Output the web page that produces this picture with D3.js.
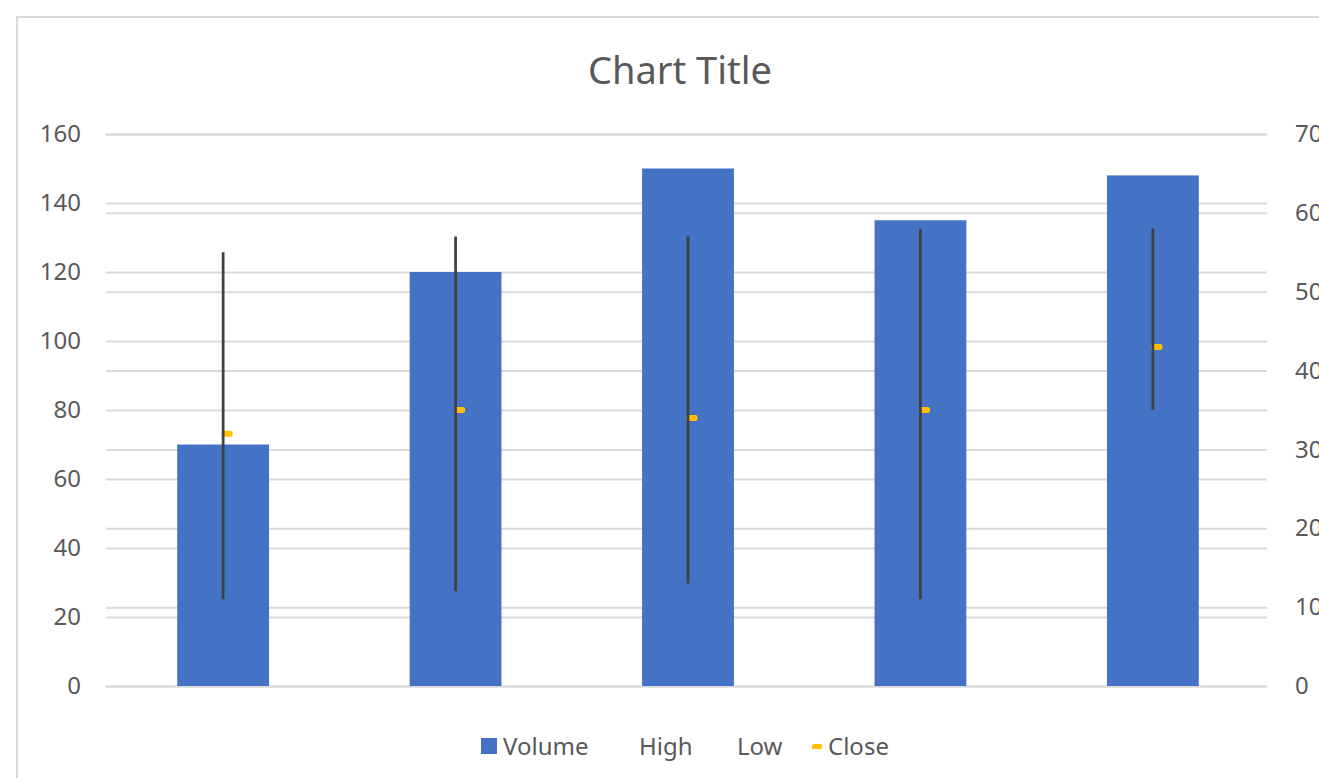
<!DOCTYPE html>
<html>
<head>
<meta charset="utf-8">
<script src="https://cdn.jsdelivr.net/npm/d3@7"></script>
<style>
  body { margin: 0; background: #fff; overflow: hidden; }
  svg text { font-family: 'Noto Sans', 'Open Sans', sans-serif; fill: #595959; }
</style>
</head>
<body>
<div id="chart"></div>
<script>
const categories = ['1', '2', '3', '4', '5'];
const volume = [70, 120, 150, 135, 148];
const high = [55, 57, 57, 58, 58];
const low = [11, 12, 13, 11, 35];
const close = [32, 35, 34, 35, 43];
const leftTicks = [0, 20, 40, 60, 80, 100, 120, 140, 160];
const rightTicks = [0, 10, 20, 30, 40, 50, 60, 70];

const width = 1319;
const height = 778;
const plot = { left: 106, right: 1267, top: 134, bottom: 686 };

const svg = d3.select('#chart').append('svg')
  .attr('width', width)
  .attr('height', height);

// chart area border (runs off the right and bottom edges)
svg.append('rect')
  .attr('x', 17)
  .attr('y', 17)
  .attr('width', 1400)
  .attr('height', 900)
  .style('fill', '#fff')
  .style('stroke', '#d9d9d9')
  .style('stroke-width', 2);

svg.append('text')
  .attr('x', 680)
  .attr('y', 84)
  .attr('text-anchor', 'middle')
  .style('font-size', '38px')
  .text('Chart Title');

const xScale = d3.scaleBand()
  .domain(categories)
  .range([plot.left + 1.5, plot.right + 1.5])
  .paddingInner(0.605)
  .paddingOuter(0.3);

const yLeft = d3.scaleLinear()
  .domain([0, 160])
  .range([plot.bottom, plot.top]);

const yRight = d3.scaleLinear()
  .domain([0, 70])
  .range([plot.bottom, plot.top]);

// gridlines for both axes
const leftAxis = d3.axisLeft(yLeft)
  .tickValues(leftTicks)
  .tickSizeInner(-(plot.right - plot.left))
  .tickSizeOuter(0)
  .tickPadding(25);

const rightAxis = d3.axisRight(yRight)
  .tickValues(rightTicks)
  .tickSizeInner(-(plot.right - plot.left))
  .tickSizeOuter(0)
  .tickPadding(28);

const gLeft = svg.append('g')
  .attr('transform', `translate(${plot.left},0)`)
  .call(leftAxis);

const gRight = svg.append('g')
  .attr('transform', `translate(${plot.right},0)`)
  .call(rightAxis);

[gLeft, gRight].forEach((g) => {
  g.select('.domain').remove();
  g.selectAll('.tick line')
    .style('stroke', '#d9d9d9')
    .style('stroke-width', 2);
  g.selectAll('.tick text')
    .style('font-size', '24px')
    .style('font-family', "'Noto Sans', sans-serif")
    .style('fill', '#595959');
});

// volume bars
svg.append('g')
  .selectAll('rect')
  .data(categories)
  .join('rect')
  .attr('x', (d) => xScale(d))
  .attr('y', (d, i) => yLeft(volume[i]))
  .attr('width', xScale.bandwidth())
  .attr('height', (d, i) => yLeft(0) - yLeft(volume[i]))
  .style('fill', '#4472c4');

const cx = (d) => xScale(d) + xScale.bandwidth() / 2;

// close markers
svg.append('g')
  .selectAll('rect')
  .data(categories)
  .join('rect')
  .attr('x', (d) => cx(d) - 1.5)
  .attr('y', (d, i) => yRight(close[i]) - 3)
  .attr('width', 11)
  .attr('height', 6)
  .attr('rx', 2)
  .style('fill', '#ffc000');

// high-low lines
svg.append('g')
  .selectAll('line')
  .data(categories)
  .join('line')
  .attr('x1', cx)
  .attr('x2', cx)
  .attr('y1', (d, i) => yRight(high[i]))
  .attr('y2', (d, i) => yRight(low[i]))
  .style('stroke', '#404040')
  .style('stroke-width', 2.75);

// legend
const legend = svg.append('g').attr('class', 'legend');

legend.append('rect')
  .attr('x', 481)
  .attr('y', 738)
  .attr('width', 16)
  .attr('height', 16)
  .style('fill', '#4472c4');

legend.append('text').attr('x', 503).attr('y', 755).style('font-size', '24px').text('Volume');
legend.append('text').attr('x', 639).attr('y', 755).style('font-size', '24px').text('High');
legend.append('text').attr('x', 737).attr('y', 755).style('font-size', '24px').text('Low');

legend.append('rect')
  .attr('x', 812)
  .attr('y', 744)
  .attr('width', 10)
  .attr('height', 5)
  .attr('rx', 1.5)
  .style('fill', '#ffc000');

legend.append('text').attr('x', 828).attr('y', 755).style('font-size', '24px').text('Close');
</script>
</body>
</html>
